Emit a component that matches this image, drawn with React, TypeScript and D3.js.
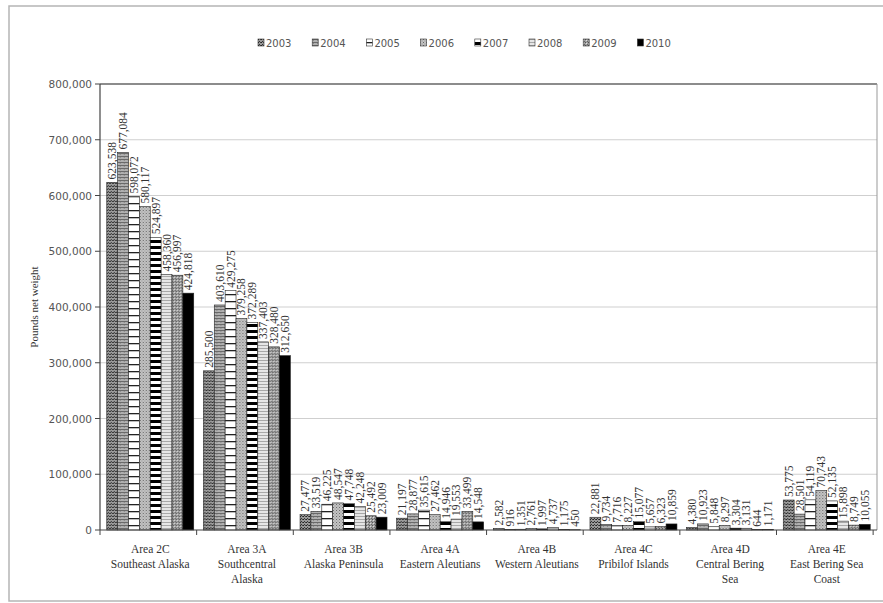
import React from "react";
import * as d3 from "d3";

const years = ["2003", "2004", "2005", "2006", "2007", "2008", "2009", "2010"];
const areas = ["2C", "3A", "3B", "4A", "4B", "4C", "4D", "4E"];
const areaLabels: string[][] = [
  ["Area 2C", "Southeast Alaska"],
  ["Area 3A", "Southcentral", "Alaska"],
  ["Area 3B", "Alaska Peninsula"],
  ["Area 4A", "Eastern Aleutians"],
  ["Area 4B", "Western Aleutians"],
  ["Area 4C", "Pribilof Islands"],
  ["Area 4D", "Central Bering", "Sea"],
  ["Area 4E", "East Bering Sea", "Coast"],
];
const v2C = [623538, 677084, 598072, 580117, 524897, 458360, 456997, 424818];
const v3A = [285500, 403610, 429275, 379258, 372289, 337403, 328480, 312650];
const v3B = [27477, 33519, 46225, 48547, 47748, 42248, 25492, 23009];
const v4A = [21197, 28877, 35615, 27462, 14946, 19553, 33499, 14548];
const v4B = [2582, 916, 1351, 2761, 1997, 4737, 1175, 450];
const v4C = [22881, 9734, 7716, 8227, 15077, 5657, 6323, 10859];
const v4D = [4380, 10923, 5848, 8297, 3304, 3131, 644, 1171];
const v4E = [53775, 28501, 54119, 70743, 52135, 15898, 8749, 10055];
const values = [v2C, v3A, v3B, v4A, v4B, v4C, v4D, v4E];
const yTicks = [0, 100000, 200000, 300000, 400000, 500000, 600000, 700000, 800000];

const W = 883, H = 603;
const L = 100, R = 877, T = 84, B = 530;

export default function App() {
  const x0 = d3.scaleBand<string>().domain(areas).range([L, R]).paddingInner(0.1).paddingOuter(0.07);
  const x1 = d3.scaleBand<string>().domain(years).range([0, x0.bandwidth()]).padding(0);
  const y = d3.scaleLinear().domain([0, 800000]).range([B, T]);
  const fmt = d3.format(",");
  const step = x0.step();
  const boundaries = d3.range(areas.length + 1).map((i) => L + i * step);

  return (
    <svg width={W} height={H} style={{ position: "absolute", left: 0, top: 0, background: "#fff" }}>
      <defs>
        <pattern id="p0" width="3" height="3" patternUnits="userSpaceOnUse">
          <rect width="3" height="3" fill="#9a9a9a" />
          <rect width="1" height="1" fill="#222" />
          <rect x="2" y="0" width="1" height="1" fill="#444" />
          <rect x="1" y="2" width="1" height="1" fill="#333" />
        </pattern>
        <pattern id="p1" width="4" height="3" patternUnits="userSpaceOnUse">
          <rect width="4" height="3" fill="#b0b0b0" />
          <rect y="0" width="4" height="1" fill="#6a6a6a" />
          <rect x="1" y="1" width="1" height="1" fill="#888" />
        </pattern>
        <pattern id="p2" width="11" height="7" patternUnits="userSpaceOnUse">
          <rect width="11" height="7" fill="#fff" />
          <rect y="0" width="11" height="1.3" fill="#222" />
        </pattern>
        <pattern id="p3" width="3" height="3" patternUnits="userSpaceOnUse">
          <rect width="3" height="3" fill="#c4c4c4" />
          <rect width="1" height="1" fill="#666" />
          <rect x="1.5" y="1.5" width="1" height="1" fill="#888" />
        </pattern>
        <pattern id="p4" width="11" height="6" patternUnits="userSpaceOnUse">
          <rect width="11" height="6" fill="#fff" />
          <rect y="0" width="11" height="3" fill="#000" />
        </pattern>
        <pattern id="p5" width="4" height="3" patternUnits="userSpaceOnUse">
          <rect width="4" height="3" fill="#e6e6e6" />
          <rect y="0" width="4" height="1" fill="#a8a8a8" />
        </pattern>
        <pattern id="p6" width="3" height="3" patternUnits="userSpaceOnUse">
          <rect width="3" height="3" fill="#a0a0a0" />
          <rect width="1" height="1" fill="#555" />
          <rect x="1" y="1" width="1" height="1" fill="#ddd" />
          <rect x="2" y="2" width="1" height="1" fill="#666" />
        </pattern>
        <pattern id="p7" width="4" height="4" patternUnits="userSpaceOnUse">
          <rect width="4" height="4" fill="#000" />
        </pattern>
      </defs>

      {/* outer border */}
      <rect x={9} y={6} width={890} height={595} fill="none" stroke="#b5b5b5" strokeWidth={1.5} />

      {/* legend */}
      <g fontFamily="DejaVu Sans, Verdana, sans-serif" fontSize={10} fill="#555">
        {years.map((yr, i) => {
          const lx = 258 + i * 54.2;
          return (
            <g key={yr}>
              <rect x={lx} y={39} width={6} height={7} fill={`url(#p${i})`} stroke="#333" strokeWidth={0.6} />
              <text x={lx + 8} y={47}>{yr}</text>
            </g>
          );
        })}
      </g>

      {/* gridlines */}
      {yTicks.slice(1).map((t) => (
        <line key={t} x1={L} x2={R} y1={y(t)} y2={y(t)} stroke={t === 800000 ? "#666" : "#cfcfcf"} strokeWidth={t === 800000 ? 1.3 : 1} />
      ))}
      <line x1={R} x2={R} y1={T} y2={B} stroke="#999" strokeWidth={1} />

      {/* bars */}
      {areas.map((a, gi) => (
        <g key={a} transform={`translate(${x0(a)},0)`}>
          {years.map((yr, si) => {
            const v = values[gi][si];
            const bx = x1(yr)!;
            const bw = x1.bandwidth();
            return (
              <g key={yr}>
                <rect x={bx} y={y(v)} width={bw} height={B - y(v)} fill={`url(#p${si})`} stroke="#222" strokeWidth={0.6} />
                <text
                  transform={`translate(${bx + bw / 2 + 4},${y(v) - 3}) rotate(-90)`}
                  fontFamily="Liberation Serif, Times New Roman, serif"
                  fontSize={11.5}
                  fill="#333"
                >
                  {fmt(v)}
                </text>
              </g>
            );
          })}
        </g>
      ))}

      {/* axes */}
      <line x1={L} x2={L} y1={T} y2={B} stroke="#444" strokeWidth={1.2} />
      <line x1={L} x2={R} y1={B} y2={B} stroke="#444" strokeWidth={1.2} />
      {yTicks.map((t) => (
        <g key={t}>
          <line x1={L - 5} x2={L} y1={y(t)} y2={y(t)} stroke="#444" />
          <text x={L - 8} y={y(t) + 4} textAnchor="end" fontFamily="DejaVu Sans, Verdana, sans-serif" fontSize={10.5} fill="#555">
            {fmt(t)}
          </text>
        </g>
      ))}
      {boundaries.map((bx, i) => (
        <line key={i} x1={bx} x2={bx} y1={B} y2={B + 5} stroke="#444" />
      ))}

      {/* category labels */}
      <g fontFamily="Liberation Serif, Times New Roman, serif" fontSize={11.5} fill="#333" textAnchor="middle">
        {areas.map((a, gi) => (
          <text key={a} x={x0(a)! + x0.bandwidth() / 2} y={553}>
            {areaLabels[gi].map((ln, li) => (
              <tspan key={li} x={x0(a)! + x0.bandwidth() / 2} dy={li === 0 ? 0 : 15}>
                {ln}
              </tspan>
            ))}
          </text>
        ))}
      </g>

      {/* y title */}
      <text
        transform={`translate(38,${(T + B) / 2}) rotate(-90)`}
        textAnchor="middle"
        fontFamily="Liberation Serif, Times New Roman, serif"
        fontSize={11}
        fill="#333"
      >
        Pounds net weight
      </text>
    </svg>
  );
}
